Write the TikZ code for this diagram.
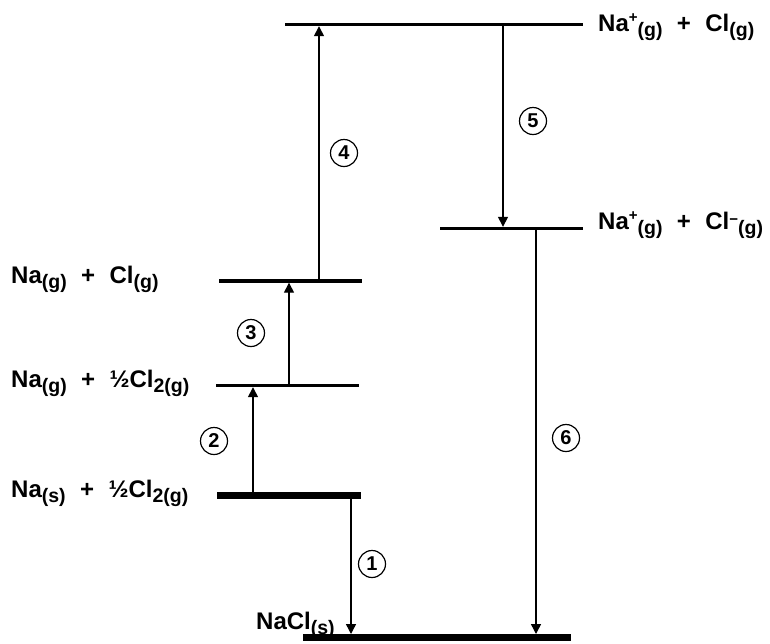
\documentclass[tikz,border=0pt]{standalone}
\usepackage{fontspec}
\setmainfont{Liberation Sans}
\usetikzlibrary{positioning,arrows.meta}
\newcommand\lowsub[1]{\raisebox{-5.5pt}{\fontsize{19.5}{19.5}\selectfont#1}}
\newcommand\phase[1]{\lowsub{(#1)}}
\newcommand\charge[2][9pt]{\raisebox{#1}{\fontsize{15}{15}\selectfont#2}}
\newcommand\plus{\hspace{0.6em}+\hspace{0.6em}}

\begin{document}
\begin{tikzpicture}[x=1pt,y=-1pt,>={Triangle[length=10pt,width=10pt]},
  level/.style={line width=3.5pt},
  baselevel/.style={line width=7pt},
  jump/.style={->,line width=1.4pt},
  species/.style={font=\bfseries\fontsize{24}{28}\selectfont,inner sep=0pt,anchor=base west},
  num/.style={circle,draw,line width=1.2pt,minimum size=27pt,inner sep=0pt,font=\bfseries\fontsize{20}{20}\selectfont}]
\useasboundingbox (0,0) rectangle (770,643);

% energy levels
\coordinate (ionpL) at (285,24.5);  \coordinate (ionpR) at (583,24.5);
\coordinate (ionsL) at (440,228.5); \coordinate (ionsR) at (583,228.5);
\coordinate (atomL) at (219,281);   \coordinate (atomR) at (362,281);
\coordinate (gasL) at (216,385.5);  \coordinate (gasR) at (359,385.5);
\coordinate (stdL) at (217,495.5);  \coordinate (stdR) at (361,495.5);
\coordinate (saltL) at (303,637.5); \coordinate (saltR) at (571,637.5);
\draw[level] (ionpL) -- (ionpR);
\draw[level] (ionsL) -- (ionsR);
\draw[level] (atomL) -- (atomR);
\draw[level] (gasL) -- (gasR);
\draw[baselevel] (stdL) -- (stdR);
\draw[baselevel] (saltL) -- (saltR);

% species
\node[species] (ionp) at (598,31) {Na\charge{+}\phase{g}\plus Cl\phase{g}};
\node[species] (ions) at (598,229) {Na\charge{+}\phase{g}\plus Cl\charge[5pt]{−}\phase{g}};
\node[species] (atom) at (11,283) {Na\phase{g}\plus Cl\phase{g}};
\node[species] (gas) at (11,387) {Na\phase{g}\plus ½Cl\lowsub{2(g)}};
\node[species] (std) at (11,497) {Na\phase{s}\plus ½Cl\lowsub{2(g)}};
\node[species] (salt) at (256,629) {NaCl\phase{s}};

% steps
\coordinate (a1) at (351,0); \coordinate (a2) at (253,0); \coordinate (a3) at (289,0);
\coordinate (a4) at (319,0); \coordinate (a5) at (503,0); \coordinate (a6) at (536,0);
\draw[jump,shorten >=3.5pt] (a1 |- stdR) -- (a1 |- saltL);
\draw[jump,shorten >=1.7pt] (a2 |- stdL) -- (a2 |- gasL);
\draw[jump,shorten >=1.7pt] (a3 |- gasL) -- (a3 |- atomL);
\draw[jump,shorten >=1.7pt] (a4 |- atomL) -- (a4 |- ionpL);
\draw[jump,shorten >=1.7pt] (a5 |- ionpL) -- (a5 |- ionsL);
\draw[jump,shorten >=3.5pt] (a6 |- ionsL) -- (a6 |- saltL);

\node[num] (n1) at (372,564) {1};
\node[num] (n2) at (214,441) {2};
\node[num] (n3) at (251,333) {3};
\node[num] (n4) at (344,153) {4};
\node[num] (n5) at (533,121) {5};
\node[num] (n6) at (566,438) {6};
\end{tikzpicture}
\end{document}
